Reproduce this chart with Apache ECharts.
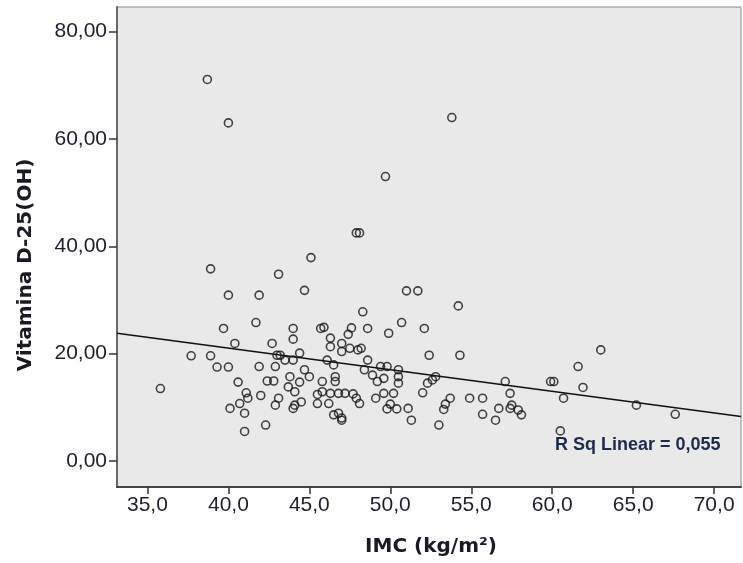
<!DOCTYPE html>
<html>
<head>
<meta charset="utf-8">
<title>IMC x Vitamina D-25(OH)</title>
<script src="https://cdn.jsdelivr.net/npm/echarts@6/dist/echarts.min.js"></script>
<style>
  html, body { margin: 0; padding: 0; background: #ffffff; }
  #chart { width: 743px; height: 563px; }
</style>
</head>
<body>
<div id="chart"></div>
<script>
// IMC (kg/m²) of each subject
const imc = [
  38.7, 40.0, 53.8, 49.7, 47.9, 48.1, 45.1, 38.9, 43.1, 40.0,
  41.9, 44.7, 51.0, 51.7, 54.2, 48.3, 50.7, 39.7, 41.7, 44.0,
  45.7, 45.9, 47.6, 47.4, 48.6, 52.1, 49.9, 44.0, 46.3, 46.3,
  47.0, 47.0, 47.5, 40.4, 42.7, 48.0, 48.2, 37.7, 38.9, 43.0,
  43.2, 44.4, 52.4, 54.3, 43.5, 44.0, 46.1, 48.6, 46.5, 39.3,
  40.0, 41.9, 42.9, 49.4, 49.8, 63.0, 61.6, 44.7, 48.4, 50.5,
  45.0, 43.8, 46.6, 48.9, 50.5, 52.8, 52.6, 49.6, 42.4, 42.8,
  40.6, 44.4, 43.7, 45.8, 46.6, 49.2, 50.5, 52.3, 57.1, 59.9,
  60.1, 61.9, 35.8, 44.1, 45.8, 41.1, 42.0, 43.1, 45.5, 46.3,
  46.8, 47.2, 47.7, 49.6, 50.2, 52.0, 57.4, 41.2, 47.9, 49.1,
  53.7, 54.9, 55.7, 60.7, 44.5, 40.7, 42.9, 44.1, 45.5, 46.2,
  48.1, 50.0, 53.4, 57.5, 65.2, 40.1, 44.0, 49.8, 50.4, 51.1,
  53.3, 56.7, 57.4, 57.9, 41.0, 46.5, 46.8, 47.0, 55.7, 58.1,
  67.6, 51.3, 47.0, 56.5, 42.3, 53.0, 41.0, 60.5
];

// Vitamina D-25(OH) of each subject, same order as imc
const vitD = [
  71.1, 63.0, 64.0, 53.0, 42.5, 42.5, 37.9, 35.8, 34.8, 30.9,
  30.9, 31.8, 31.7, 31.7, 28.9, 27.8, 25.8, 24.7, 25.8, 24.7,
  24.7, 24.9, 24.8, 23.6, 24.7, 24.7, 23.8, 22.7, 22.9, 21.3,
  21.9, 20.4, 21.0, 21.9, 21.9, 20.7, 21.0, 19.6, 19.6, 19.7,
  19.7, 20.1, 19.7, 19.7, 18.8, 18.8, 18.8, 18.8, 17.9, 17.5,
  17.5, 17.6, 17.6, 17.6, 17.6, 20.7, 17.6, 17.0, 17.0, 17.0,
  15.7, 15.7, 15.7, 16.0, 15.7, 15.7, 15.1, 15.4, 14.9, 14.9,
  14.7, 14.7, 13.8, 14.8, 14.8, 14.8, 14.5, 14.5, 14.8, 14.8,
  14.8, 13.7, 13.5, 12.9, 12.9, 12.7, 12.2, 11.7, 12.4, 12.6,
  12.6, 12.6, 12.5, 12.6, 12.6, 12.7, 12.6, 11.7, 11.7, 11.7,
  11.7, 11.7, 11.7, 11.7, 11.0, 10.7, 10.4, 10.4, 10.7, 10.7,
  10.7, 10.6, 10.6, 10.4, 10.4, 9.8, 9.8, 9.7, 9.7, 9.8,
  9.6, 9.8, 9.8, 9.5, 8.9, 8.6, 8.9, 8.0, 8.7, 8.6,
  8.7, 7.6, 7.6, 7.6, 6.7, 6.7, 5.5, 5.6
];

// Tick labels
const xTicks = [35, 40, 45, 50, 55, 60, 65, 70];
const yTicks = [0, 20, 40, 60, 80];

// Fitted linear regression: vitD = intercept + slope * imc
const fitIntercept = 37.13;
const fitSlope = -0.4026;
const rSquared = 0.055;

// Axis extents
const xMin = 33.12, xMax = 71.66;
const yMin = -4.85, yMax = 84.6;

const fmt = (v, d) => v.toFixed(d).replace('.', ',');

const points = imc.map((x, i) => [x, vitD[i]]);
const fitLine = [
  [xMin, fitIntercept + fitSlope * xMin],
  [xMax, fitIntercept + fitSlope * xMax]
];

const font = "'Liberation Sans', Arial, sans-serif";
const titleFont = "'DejaVu Sans', Verdana, sans-serif";
const labelColor = '#1e1e2e';

const chart = echarts.init(document.getElementById('chart'), null, { renderer: 'canvas' });

chart.setOption({
  animation: false,
  backgroundColor: '#ffffff',
  grid: {
    left: 117, top: 7, right: 2, bottom: 76,
    show: true,
    backgroundColor: '#e9e9e9',
    borderColor: '#8a8a8a',
    borderWidth: 1
  },
  xAxis: {
    type: 'value',
    min: xMin, max: xMax,
    splitLine: { show: false },
    axisLine: { show: true, onZero: false, lineStyle: { color: '#444', width: 2 } },
    axisTick: { show: true, length: 7, customValues: xTicks, lineStyle: { color: '#333', width: 1.5 } },
    axisLabel: {
      customValues: xTicks,
      formatter: v => fmt(v, 1),
      margin: 8,
      fontFamily: font, fontSize: 21, color: labelColor
    }
  },
  yAxis: {
    type: 'value',
    min: yMin, max: yMax,
    splitLine: { show: false },
    axisLine: { show: true, onZero: false, lineStyle: { color: '#666', width: 2 } },
    axisTick: { show: true, length: 8, customValues: yTicks, lineStyle: { color: '#333', width: 1.5 } },
    axisLabel: {
      customValues: yTicks,
      formatter: v => fmt(v, 2),
      margin: 10,
      fontFamily: font, fontSize: 21, color: labelColor
    }
  },
  graphic: [
    {
      type: 'text',
      x: 26, y: 265,
      rotation: Math.PI / 2,
      style: {
        text: 'Vitamina D-25(OH)',
        font: 'bold 20px ' + titleFont,
        fill: '#1a1a26',
        align: 'center',
        verticalAlign: 'middle'
      }
    },
    {
      type: 'text',
      x: 431, y: 547,
      style: {
        text: 'IMC (kg/m²)',
        font: 'bold 20px ' + titleFont,
        fill: '#1a1a26',
        align: 'center',
        verticalAlign: 'middle'
      }
    },
    {
      type: 'text',
      x: 555, y: 445,
      style: {
        text: 'R Sq Linear = ' + fmt(rSquared, 3),
        font: 'bold 18px ' + font,
        fill: '#1e2a4a',
        align: 'left',
        verticalAlign: 'middle'
      }
    }
  ],
  series: [
    {
      type: 'line',
      data: fitLine,
      symbol: 'none',
      silent: true,
      lineStyle: { color: '#111', width: 1.5 },
      z: 2
    },
    {
      type: 'scatter',
      data: points,
      symbol: 'circle',
      symbolSize: 8,
      itemStyle: { color: 'rgba(0,0,0,0)', borderColor: '#161616', borderWidth: 1.6 },
      z: 3
    }
  ]
});
</script>
</body>
</html>
